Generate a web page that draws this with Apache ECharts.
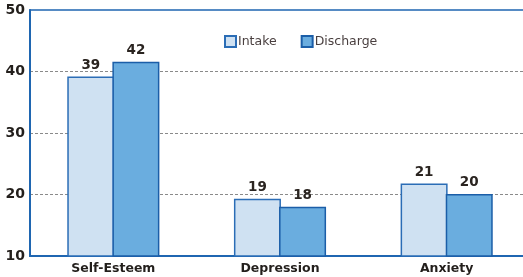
<!DOCTYPE html>
<html>
<head>
<meta charset="utf-8">
<script src="https://cdn.jsdelivr.net/npm/echarts@6/dist/echarts.min.js"></script>
<style>
html,body{margin:0;padding:0;background:#fff;}
#chart{width:523px;height:277px;}
</style>
</head>
<body>
<div id="chart"></div>
<script>
var categories = ['Self-Esteem', 'Depression', 'Anxiety'];
var intakeValues = [39.2, 19.3, 21.8];
var dischargeValues = [41.6, 18.0, 20.1];
var intakeLabels = ['39', '19', '21'];
var dischargeLabels = ['42', '18', '20'];
var yTicks = [10, 20, 30, 40, 50];

var chart = echarts.init(document.getElementById('chart'));
var blue = '#1f66b1';
var labelStyle = {fontFamily: 'DejaVu Sans', fontWeight: 'bold', fontSize: 13.5, color: '#2a2420'};

chart.setOption({
  animation: false,
  grid: {left: 30, width: 500, top: 10, bottom: 21, outerBoundsMode: 'none', containLabel: false, show: true, borderColor: blue, borderWidth: 1.5, backgroundColor: 'transparent'},
  legend: {
    left: 224, top: 35, padding: 0, itemWidth: 11, itemHeight: 11, itemGap: 24,
    icon: 'rect',
    textStyle: {fontFamily: 'DejaVu Sans', fontSize: 12.5, color: '#4a4040', padding: [0, 0, 0, -3]},
    data: ['Intake', 'Discharge']
  },
  xAxis: {
    type: 'category', data: categories,
    axisLine: {lineStyle: {color: blue, width: 2}},
    axisTick: {show: false},
    axisLabel: {fontFamily: 'DejaVu Sans', fontWeight: 'bold', fontSize: 12.5, color: '#231f1c', margin: 6}
  },
  yAxis: {
    type: 'value', min: yTicks[0], max: yTicks[yTicks.length - 1], interval: 10,
    axisLine: {show: true, lineStyle: {color: blue, width: 2}},
    axisTick: {show: false},
    axisLabel: {fontFamily: 'DejaVu Sans', fontWeight: 'bold', fontSize: 14, color: '#231f1c', margin: 5},
    splitLine: {show: true, showMinLine: false, showMaxLine: false, lineStyle: {color: '#8a8a8a', type: [3, 2], width: 1}}
  },
  series: [
    {
      name: 'Intake', type: 'bar', data: intakeValues, barWidth: 47, barGap: '-4%',
      itemStyle: {color: '#cfe1f2', borderColor: '#2b6db6', borderWidth: 1.5},
      label: Object.assign({show: true, position: 'top', distance: 4, formatter: function (p) { return intakeLabels[p.dataIndex]; }}, labelStyle)
    },
    {
      name: 'Discharge', type: 'bar', data: dischargeValues, barWidth: 47, barGap: '-4%',
      itemStyle: {color: '#6aaddf', borderColor: '#1b5ea8', borderWidth: 1.5},
      label: Object.assign({show: true, position: 'top', distance: 4, formatter: function (p) { return dischargeLabels[p.dataIndex]; }}, labelStyle)
    }
  ]
});
</script>
</body>
</html>
